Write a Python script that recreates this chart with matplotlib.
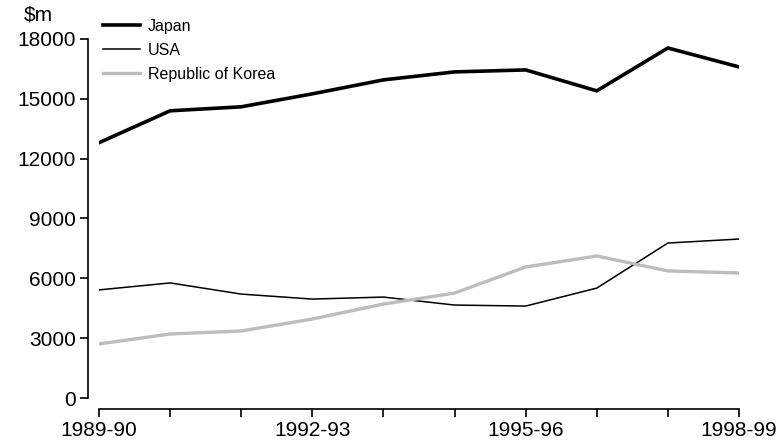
import numpy as np
import matplotlib.pyplot as plt

plt.rcParams['font.family'] = ['Liberation Sans', 'DejaVu Sans']

years = ['1989-90', '1990-91', '1991-92', '1992-93', '1993-94',
         '1994-95', '1995-96', '1996-97', '1997-98', '1998-99']
japan = [12800, 14400, 14600, 15250, 15950, 16350, 16450, 15400, 17550, 16600]
usa = [5420, 5770, 5210, 4960, 5060, 4660, 4610, 5510, 7770, 7970]
korea = [2710, 3210, 3360, 3960, 4710, 5260, 6570, 7120, 6370, 6270]
yticks = [0, 3000, 6000, 9000, 12000, 15000, 18000]
shown = ['1989-90', '1992-93', '1995-96', '1998-99']

fig = plt.figure(figsize=(7.84, 4.43), dpi=100)
ax = fig.add_axes([99/784, 1 - 398/443, 640/784, 359/443])

x = np.arange(len(years))
ax.plot(x, japan, color='black', lw=2.6, label='Japan')
ax.plot(x, usa, color='black', lw=1.1, label='USA')
ax.plot(x, korea, color='#bdbdbd', lw=2.4, label='Republic of Korea')

ax.set_xlim(0, 9)
ax.set_ylim(0, 18000)
ax.set_yticks(yticks)
ax.set_yticklabels([str(v) for v in yticks])
ax.set_xticks(x)
ax.set_xticklabels([y if y in shown else '' for y in years])

for s in ['top', 'right']:
    ax.spines[s].set_visible(False)
ax.spines['left'].set_position(('outward', 8))
ax.spines['bottom'].set_position(('outward', 8))
ax.spines['left'].set_bounds(0, 18000)
ax.spines['bottom'].set_bounds(0, 9)
ax.spines['left'].set_linewidth(1.2)
ax.spines['bottom'].set_linewidth(1.2)
ax.tick_params(axis='both', length=5.8, width=1.2, labelsize=15, pad=3)

fig.text(38/784, 1 - 15/443, '$m', fontsize=15, ha='center', va='center')

ax.legend(loc='upper left', bbox_to_anchor=(103/784, 1 - 19/443),
          bbox_transform=fig.transFigure, frameon=False, fontsize=11.5,
          handlelength=2.3, handletextpad=0.5, labelspacing=0.55,
          borderaxespad=0, borderpad=0)

fig.savefig('out.png', dpi=100)
